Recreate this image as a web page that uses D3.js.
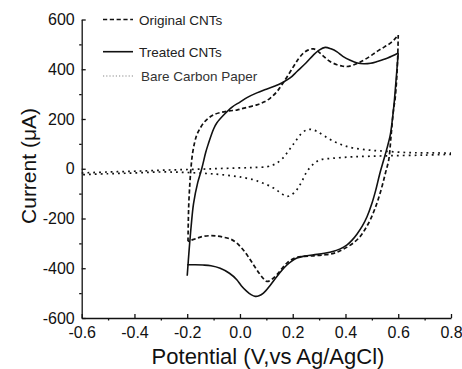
<!DOCTYPE html>
<html>
<head>
<meta charset="utf-8">
<script src="https://cdn.jsdelivr.net/npm/d3@7"></script>
<style>
  html, body { margin: 0; padding: 0; background: #fff; }
  svg { display: block; font-family: "Liberation Sans", Arial, sans-serif; }
</style>
</head>
<body>
<svg id="chart" width="462" height="369"></svg>
<script>
// ---- Data (V vs Ag/AgCl, current in µA) ----
const treatedFwdV = [-0.2,-0.193,-0.185,-0.176,-0.16,-0.145,-0.13,-0.12,-0.1,-0.088,-0.06,-0.03,0.0,0.03,0.064,0.1,0.13,0.16,0.19,0.216,0.25,0.279,0.3,0.323,0.345,0.368,0.39,0.418,0.445,0.469,0.495,0.52,0.56,0.6];
const treatedFwdI = [-430,-330,-230,-140,-55,0,65,100,160,184,218,248,268,288,305,320,332,346,365,391,425,458,477,488,482,470,452,436,425,422,424,431,445,465];
const treatedRevV = [0.6,0.592,0.585,0.578,0.57,0.558,0.545,0.53,0.515,0.5,0.482,0.463,0.444,0.425,0.406,0.38,0.355,0.32,0.279,0.245,0.216,0.195,0.178,0.16,0.14,0.115,0.089,0.072,0.058,0.042,0.026,0.005,-0.012,-0.04,-0.075,-0.11,-0.14,-0.17,-0.2];
const treatedRevI = [465,360,270,200,137,85,36,-20,-85,-140,-192,-232,-262,-287,-306,-322,-332,-340,-346,-351,-359,-372,-387,-407,-433,-468,-500,-511,-513,-506,-493,-470,-446,-420,-400,-390,-387,-386,-386];

const originalFwdV = [-0.197,-0.196,-0.194,-0.19,-0.186,-0.18,-0.172,-0.164,-0.155,-0.138,-0.12,-0.1,-0.07,-0.04,-0.012,0.02,0.064,0.09,0.115,0.14,0.159,0.18,0.203,0.222,0.241,0.26,0.279,0.298,0.317,0.34,0.368,0.39,0.406,0.43,0.456,0.49,0.52,0.548,0.57,0.59,0.6];
const originalFwdI = [-292,-220,-140,-60,0,60,105,135,155,184,203,217,227,233,236,245,257,268,284,310,338,372,411,442,465,478,482,470,452,432,418,412,411,417,429,450,472,490,505,525,538];
const originalRevV = [0.6,0.598,0.594,0.588,0.582,0.573,0.564,0.552,0.54,0.525,0.51,0.494,0.475,0.456,0.43,0.406,0.38,0.355,0.32,0.279,0.245,0.216,0.195,0.178,0.16,0.14,0.12,0.102,0.09,0.077,0.058,0.039,0.015,-0.012,-0.035,-0.063,-0.09,-0.113,-0.14,-0.165,-0.197];
const originalRevI = [538,450,360,280,237,135,36,-15,-65,-120,-165,-205,-242,-272,-298,-315,-330,-340,-346,-350,-352,-356,-366,-379,-400,-426,-445,-453,-443,-426,-397,-366,-330,-299,-283,-275,-270,-269,-272,-280,-292];

const bareFwdV = [-0.6,-0.5,-0.4,-0.3,-0.2,-0.1,-0.012,0.05,0.102,0.125,0.14,0.16,0.178,0.195,0.21,0.23,0.254,0.275,0.292,0.32,0.355,0.39,0.431,0.49,0.557,0.633,0.7,0.8];
const bareFwdI = [-17,-13,-10,-6,-3,0,3,5,8,15,23,40,63,88,110,138,157,157,150,132,110,95,83,75,70,65,64,63];
const bareRevV = [0.8,0.7,0.557,0.431,0.35,0.304,0.28,0.254,0.235,0.216,0.195,0.178,0.162,0.146,0.125,0.102,0.075,0.051,0.02,-0.012,-0.1,-0.2,-0.3,-0.4,-0.5,-0.6];
const bareRevI = [58,55,52,48,42,36,20,-11,-50,-84,-105,-111,-103,-91,-76,-64,-53,-44,-37,-31,-21,-15,-13,-17,-20,-24];

const xMajorTicks = [-0.6,-0.4,-0.2,0.0,0.2,0.4,0.6,0.8];
const xMinorTicks = [-0.5,-0.3,-0.1,0.1,0.3,0.5,0.7];
const yMajorTicks = [-600,-400,-200,0,200,400,600];
const yMinorTicks = [-500,-300,-100,100,300,500];

const legendLabels = ["Original CNTs","Treated CNTs","Bare Carbon Paper"];

// ---- Scales ----
const svg = d3.select("#chart");
const x = d3.scaleLinear().domain([-0.6, 0.8]).range([81.7, 451]);
const y = d3.scaleLinear().domain([-600, 600]).range([318, 19.5]);

const styles = {
  dashed: {dash: "4.2,2.6", width: 1.7},
  solid: {dash: null, width: 1.6},
  dotted: {dash: "1.8,4", width: 1.7}
};

// ---- Curves ----
const line = d3.line().x(d => x(d[0])).y(d => y(d[1])).curve(d3.curveCatmullRom.alpha(0.5));
function zip(a, b) { return a.map((v, i) => [v, b[i]]); }

const curves = [
  {v: bareFwdV, i: bareFwdI, s: styles.dotted},
  {v: bareRevV, i: bareRevI, s: styles.dotted},
  {v: originalFwdV, i: originalFwdI, s: styles.dashed},
  {v: originalRevV, i: originalRevI, s: styles.dashed},
  {v: treatedFwdV, i: treatedFwdI, s: styles.solid},
  {v: treatedRevV, i: treatedRevI, s: styles.solid}
];
const cg = svg.append("g");
curves.forEach(c => {
  cg.append("path")
    .attr("d", line(zip(c.v, c.i)))
    .attr("fill", "none")
    .attr("stroke", "#111")
    .attr("stroke-width", c.s.width)
    .attr("stroke-dasharray", c.s.dash)
    .attr("stroke-linejoin", "round");
});

// ---- Axes ----
const yAxis = d3.axisLeft(y).tickValues(yMajorTicks).tickSize(-4).tickSizeOuter(0).tickPadding(7)
  .tickFormat(d => String(d));
const gy = svg.append("g").attr("transform", "translate(81.7,0)").call(yAxis);
const yMinor = d3.axisLeft(y).tickValues(yMinorTicks).tickSize(2.5).tickSizeOuter(0).tickFormat("");
const gym = svg.append("g").attr("transform", "translate(81.7,0)").call(yMinor);
gym.select(".domain").remove();

const xAxis = d3.axisBottom(x).tickValues(xMajorTicks).tickSize(-4).tickSizeOuter(0).tickPadding(9)
  .tickFormat(d => Math.abs(d) < 1e-9 ? "0.0" : d.toFixed(1));
const gx = svg.append("g").attr("transform", "translate(0,318)").call(xAxis);
const xMinor = d3.axisBottom(x).tickValues(xMinorTicks).tickSize(2.5).tickSizeOuter(0).tickFormat("");
const gxm = svg.append("g").attr("transform", "translate(0,318)").call(xMinor);
gxm.select(".domain").remove();

[gy, gym, gx, gxm].forEach(g => {
  g.selectAll("path, line").attr("stroke", "#111").attr("stroke-width", 1.3);
  g.selectAll("text").attr("font-size", 16).attr("fill", "#111")
    .attr("font-family", "'Liberation Sans', Arial, sans-serif");
});

// ---- Axis titles ----
svg.append("text")
  .attr("transform", "translate(36,166) rotate(-90)")
  .attr("text-anchor", "middle")
  .attr("font-size", 21)
  .attr("fill", "#111")
  .text("Current (\u03BCA)");

svg.append("text")
  .attr("x", 268).attr("y", 364)
  .attr("text-anchor", "middle")
  .attr("font-size", 22)
  .attr("fill", "#111")
  .text("Potential (V,vs Ag/AgCl)");

// ---- Legend ----
const legendStyles = [styles.dashed, styles.solid, styles.dotted];
const legendY = [19.5, 51.7, 76];
const lg = svg.append("g");
legendLabels.forEach((lab, k) => {
  const s = legendStyles[k];
  lg.append("line")
    .attr("x1", 103).attr("x2", 133)
    .attr("y1", legendY[k]).attr("y2", legendY[k])
    .attr("stroke", k === 2 ? "#888" : "#111")
    .attr("stroke-width", k === 2 ? 1.2 : s.width)
    .attr("stroke-dasharray", k === 2 ? "1.2,2" : s.dash);
  lg.append("text")
    .attr("x", k === 2 ? 141 : 139)
    .attr("y", legendY[k] + 5)
    .attr("font-size", 13.5)
    .attr("fill", k === 2 ? "#333" : "#222")
    .text(lab);
});
</script>
</body>
</html>
